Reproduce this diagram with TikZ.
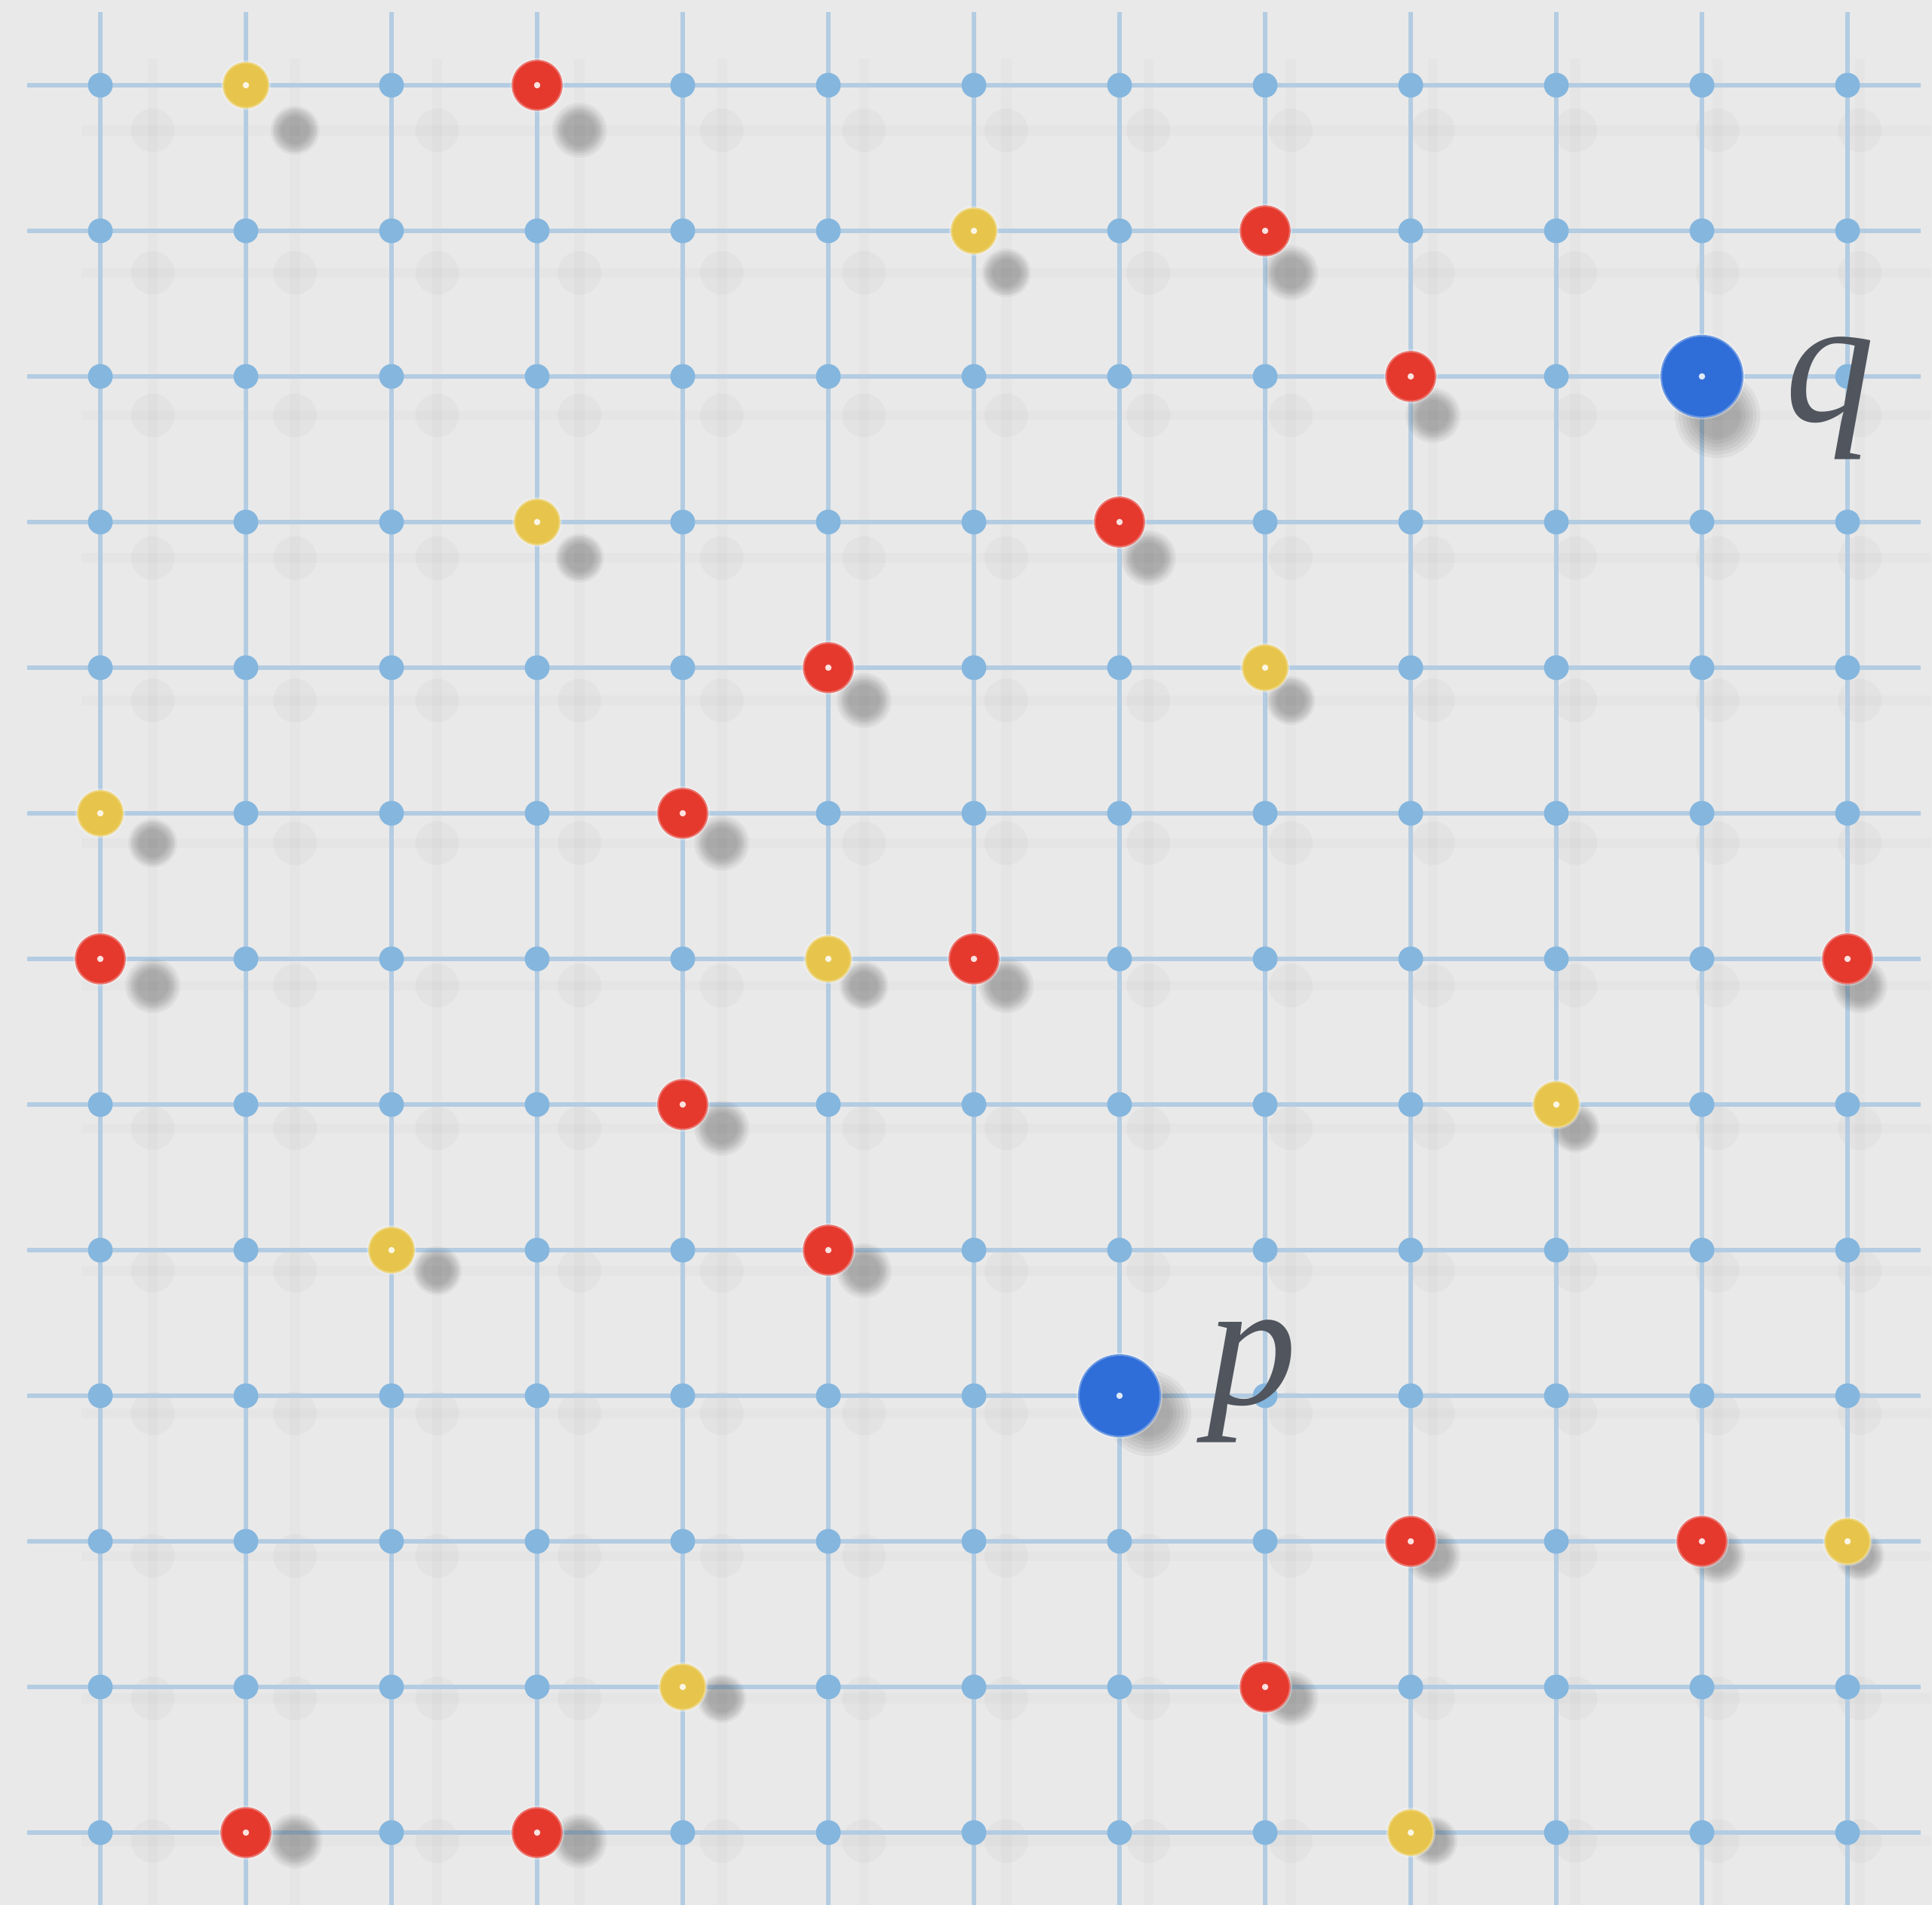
\documentclass[tikz,border=0pt]{standalone}
\usepackage{fontspec}
\newfontfamily\labelfont{Liberation Serif}
\usetikzlibrary{positioning}
\definecolor{bgcol}{HTML}{E9E9E9}
\definecolor{gridcol}{HTML}{B3CCE2}
\definecolor{knotcol}{HTML}{85B6DE}
\definecolor{dotred}{HTML}{E5392E}
\definecolor{dotyellow}{HTML}{E7C54C}
\definecolor{dotblue}{HTML}{2F6ED8}
\definecolor{inkcol}{HTML}{50555E}

\begin{document}
\begin{tikzpicture}[
    gridline/.style={gridcol, line width=0.85pt},
    ghostline/.style={black, opacity=0.015, line width=2pt},
    knot/.style={circle, fill=knotcol, inner sep=0pt, minimum size=1.7mm},
    ghostknot/.style={circle, fill=black, opacity=0.025, inner sep=0pt, minimum size=3mm},
    dotbase/.style={circle, inner sep=0pt, draw=white, draw opacity=0.3, line width=0.6pt,
        path picture={\fill[white, opacity=0.85] (path picture bounding box.center) circle (0.22mm);}},
    reddot/.style={dotbase, fill=dotred, minimum size=3.5mm},
    yellowdot/.style={dotbase, fill=dotyellow, minimum size=3.2mm},
    bluedot/.style={dotbase, fill=dotblue, minimum size=5.7mm},
    lbl/.style={font=\labelfont\itshape\fontsize{35}{40}\selectfont, text=inkcol, inner sep=0pt},
]
% Canvas
\fill[bgcol] (-0.689,-12.497) rectangle (12.58,0.585);
\useasboundingbox (-0.689,-12.497) rectangle (12.58,0.585);
% Faint shadow of the grid
\begin{scope}[shift={(0.36,-0.31)}, xscale=0.977, yscale=0.979]
  \foreach \i in {0,...,12} {
    \draw[ghostline] (\i,0.5) -- (\i,-12.5);
    \draw[ghostline] (-0.5,-\i) -- (12.5,-\i);
  }
  \foreach \i in {0,...,12}
    \foreach \j in {0,...,12}
      \node[ghostknot] (g-\i-\j) at (\i,-\j) {};
\end{scope}
% Grid
\foreach \i in {0,...,12} {
  \draw[gridline] (\i,0.5) -- (\i,-12.5);
  \draw[gridline] (-0.5,-\i) -- (12.5,-\i);
}
\foreach \i in {0,...,12}
  \foreach \j in {0,...,12}
    \node[knot] (k-\i-\j) at (\i,-\j) {};
% Dots with their shadows
\foreach \c/\r/\kind/\rad in {
    1/0/yellowdot/0.16, 3/0/reddot/0.18,
    6/1/yellowdot/0.16, 8/1/reddot/0.18,
    9/2/reddot/0.18, 11/2/bluedot/0.28,
    3/3/yellowdot/0.16, 7/3/reddot/0.18,
    5/4/reddot/0.18, 8/4/yellowdot/0.16,
    0/5/yellowdot/0.16, 4/5/reddot/0.18,
    0/6/reddot/0.18, 5/6/yellowdot/0.16, 6/6/reddot/0.18, 12/6/reddot/0.18,
    4/7/reddot/0.18, 10/7/yellowdot/0.16,
    2/8/yellowdot/0.16, 5/8/reddot/0.18,
    7/9/bluedot/0.28,
    9/10/reddot/0.18, 11/10/reddot/0.18, 12/10/yellowdot/0.16,
    4/11/yellowdot/0.16, 8/11/reddot/0.18,
    1/12/reddot/0.18, 3/12/reddot/0.18, 9/12/yellowdot/0.16} {
  \foreach \k in {0,...,5}
    \fill[black, opacity=0.045] ({0.977*\c+0.36},{-0.979*\r-0.31}) circle ({\rad*(0.6+0.09*\k)});
  \node[\kind] (dot-\c-\r) at (\c,-\r) {};
}
% Labels
\node[lbl, anchor=base] (qlabel) at (11.88,-2.31) {q};
\node[lbl, anchor=base] (plabel) at (7.91,-9.06) {p};
\end{tikzpicture}
\end{document}
